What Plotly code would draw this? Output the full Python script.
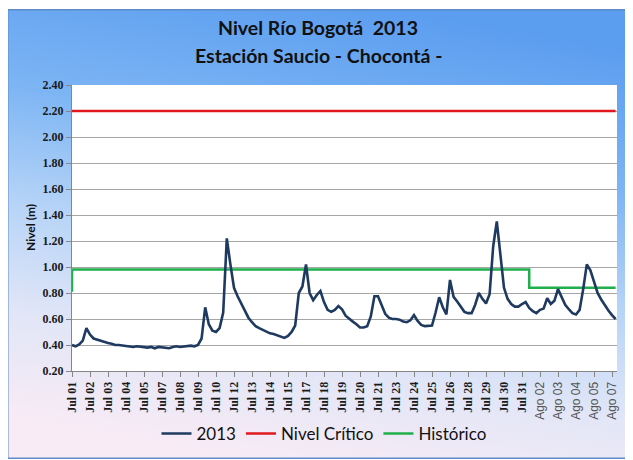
import base64
import plotly.graph_objects as go

# ---------------- data ----------------
x_labels = ["Jul 01", "Jul 02", "Jul 03", "Jul 04", "Jul 05", "Jul 07", "Jul 08",
            "Jul 09", "Jul 10", "Jul 12", "Jul 13", "Jul 14", "Jul 15", "Jul 17",
            "Jul 18", "Jul 19", "Jul 20", "Jul 21", "Jul 23", "Jul 24", "Jul 25",
            "Jul 26", "Jul 28", "Jul 29", "Jul 30", "Jul 31", "Ago 02", "Ago 03",
            "Ago 04", "Ago 05", "Ago 07"]

samples_per_label = 5

nivel_2013 = [
    0.40, 0.39, 0.405, 0.434, 0.53, 0.48, 0.45, 0.44, 0.43, 0.42,
    0.415, 0.41, 0.40, 0.40, 0.395, 0.39, 0.39, 0.385, 0.39, 0.385,
    0.38, 0.38, 0.385, 0.375, 0.385, 0.38, 0.38, 0.375, 0.385, 0.39,
    0.385, 0.39, 0.39, 0.395, 0.39, 0.40, 0.45, 0.69, 0.56, 0.51,
    0.50, 0.53, 0.65, 1.22, 1.02, 0.84, 0.775, 0.72, 0.66, 0.61,
    0.575, 0.545, 0.53, 0.515, 0.50, 0.49, 0.485, 0.475, 0.47, 0.455,
    0.47, 0.50, 0.55, 0.80, 0.85, 1.02, 0.80, 0.745, 0.785, 0.815,
    0.73, 0.67, 0.655, 0.67, 0.70, 0.675, 0.625, 0.60, 0.58, 0.56,
    0.535, 0.535, 0.545, 0.62, 0.775, 0.775, 0.70, 0.64, 0.61, 0.60,
    0.60, 0.595, 0.58, 0.575, 0.59, 0.63, 0.585, 0.555, 0.545, 0.545,
    0.55, 0.65, 0.767, 0.69, 0.635, 0.90, 0.77, 0.735, 0.69, 0.655,
    0.645, 0.645, 0.71, 0.80, 0.755, 0.72, 0.79, 1.16, 1.35, 1.08,
    0.84, 0.755, 0.715, 0.695, 0.695, 0.715, 0.73, 0.685, 0.66, 0.645,
    0.67, 0.68, 0.76, 0.715, 0.74, 0.83, 0.765, 0.71, 0.675, 0.645,
    0.635, 0.67, 0.83, 1.02, 0.975, 0.89, 0.80, 0.75, 0.705, 0.665,
    0.63, 0.60,
]

# (value, number of samples) runs
historico_runs = [(0.81, 1), (0.98, 127), (0.84, 24)]
critico_runs = [(2.20, 152)]


def expand(runs):
    out = []
    for v, n in runs:
        out.extend([v] * n)
    return out


historico = expand(historico_runs)
critico = expand(critico_runs)
x_pos = [k / samples_per_label for k in range(len(nivel_2013))]

# ---------------- layout geometry ----------------
OFF = 8                      # page body margin
W, H = 633 - OFF, 460 - OFF
L, R, T, B = 72 - OFF, 16, 85 - OFF, 89
PW, PH = W - L - R, H - T - B
PX_PER_LABEL = 18.0


def pxx(px):          # screen x -> paper
    return (px - OFF - L) / PW


def pxy(py):          # screen y -> paper
    return (H - B - (py - OFF)) / PH


# background box with gradient (screen coords)
bx0, by0, bx1, by1 = 7, 9, 633, 459
bw, bh = bx1 - bx0, by1 - by0
svg = f'''<svg xmlns="http://www.w3.org/2000/svg" width="{bw}" height="{bh}" viewBox="0 0 {bw} {bh}" preserveAspectRatio="none">
<defs><linearGradient id="g" x1="0.62" y1="0" x2="0.38" y2="1">
<stop offset="0" stop-color="#5B9DEF"/>
<stop offset="0.3" stop-color="#7DB5F4"/>
<stop offset="0.55" stop-color="#B7D4F7"/>
<stop offset="0.78" stop-color="#E2E6F7"/>
<stop offset="1" stop-color="#F8EBF5"/>
</linearGradient></defs>
<rect x="0" y="0" width="{bw}" height="{bh}" fill="url(#g)"/>
<rect x="0.75" y="0.75" width="{bw - 1.5}" height="{bh - 1.5}" fill="none" stroke="#5E8CC8" stroke-width="1.5"/>
</svg>'''
svg_uri = "data:image/svg+xml;base64," + base64.b64encode(svg.encode("utf-8")).decode("ascii")

SERIF = "Liberation Serif, Times New Roman, serif"

tick_text = []
for lbl in x_labels:
    if lbl.startswith("Ago"):
        tick_text.append(f'<span style="font-family:Liberation Sans, Arial, sans-serif;font-weight:normal;color:#555555">{lbl}</span>')
    else:
        tick_text.append(f'<b>{lbl}</b>')

fig = go.Figure()
fig.add_trace(go.Scatter(x=x_pos, y=historico, mode="lines", name="Histórico",
                         line=dict(color="#1FAF4B", width=2.5, shape="vh"),
                         legendrank=3, hoverinfo="skip"))
fig.add_trace(go.Scatter(x=x_pos, y=critico, mode="lines", name="Nivel Crítico",
                         line=dict(color="#E0181E", width=2.5),
                         legendrank=2, hoverinfo="skip"))
fig.add_trace(go.Scatter(x=x_pos, y=nivel_2013, mode="lines", name="2013",
                         line=dict(color="#1F3A60", width=2.6),
                         legendrank=1))

fig.update_layout(
    width=W, height=H,
    margin=dict(l=L, r=R, t=T, b=B, autoexpand=False),
    paper_bgcolor="white",
    plot_bgcolor="white",
    showlegend=True,
    legend=dict(orientation="h", x=pxx(324), xanchor="center",
                y=pxy(434), yanchor="middle",
                font=dict(family="Lato", size=17, color="#111111"),
                bgcolor="rgba(0,0,0,0)"),
    xaxis=dict(range=[0, PW / PX_PER_LABEL], tickmode="array",
               tickvals=list(range(len(x_labels))), ticktext=tick_text,
               tickangle=-90, ticks="outside", ticklen=5, tickcolor="#868686",
               showline=True, linecolor="#868686", linewidth=1,
               showgrid=False, zeroline=False,
               tickfont=dict(family=SERIF, size=12, color="#1a1a1a")),
    yaxis=dict(range=[0.2, 2.4], tick0=0.2, dtick=0.2, tickformat=".2f",
               showgrid=True, gridcolor="#A6A6A6", gridwidth=1,
               showline=True, linecolor="#868686", linewidth=1,
               ticks="outside", ticklen=5, tickcolor="#868686",
               zeroline=False,
               tickfont=dict(family=SERIF, size=12, color="#1a1a1a", weight="bold")),
    images=[dict(source=svg_uri, xref="paper", yref="paper",
                 x=pxx(bx0), y=pxy(by0), sizex=bw / PW, sizey=bh / PH,
                 xanchor="left", yanchor="top", sizing="stretch", layer="below")],
    shapes=[dict(type="rect", xref="paper", yref="paper", x0=0, x1=1, y0=0, y1=1,
                 fillcolor="white", line=dict(width=0), layer="below")],
    annotations=[
        dict(text="<b>Nivel Río Bogotá\u00a0 2013</b>", xref="paper", yref="paper",
             x=pxx(318), y=pxy(28), xanchor="center", yanchor="middle",
             showarrow=False, font=dict(family="Lato", size=19.5, color="#111111")),
        dict(text="<b>Estación Saucio - Chocontá -</b>", xref="paper", yref="paper",
             x=pxx(318), y=pxy(56), xanchor="center", yanchor="middle",
             showarrow=False, font=dict(family="Lato", size=19.5, color="#111111")),
        dict(text="<b>Nivel (m)</b>", xref="paper", yref="paper",
             x=pxx(30), y=0.5, xanchor="center", yanchor="middle", textangle=-90,
             showarrow=False, font=dict(family="Lato", size=12, color="#111111")),
    ],
)

fig.write_html("out.html")
